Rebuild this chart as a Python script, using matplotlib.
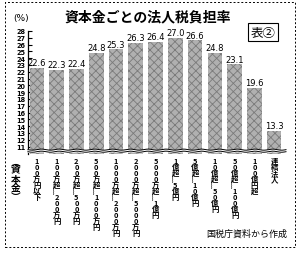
import numpy as np
import matplotlib
matplotlib.use("Agg")
import matplotlib.pyplot as plt
from matplotlib.patches import Rectangle
import matplotlib.transforms as mtransforms

plt.rcParams['font.family'] = ['Noto Sans CJK JP', 'DejaVu Sans']
plt.rcParams['hatch.color'] = '#7a7a7a'
plt.rcParams['hatch.linewidth'] = 0.6

categories = ["100万円以下", "100万超︴200万円", "200万超︴500万円", "500万超︴1000万円",
              "1000万超︴2000万円", "2000万超︴5000万円", "5000万超︴1億円",
              "1億超︴5億円", "5億超︴10億円", "10億超︴50億円", "50億超︴100億円",
              "100億円超", "連結法人"]
values = [22.6, 22.3, 22.4, 24.8, 25.3, 26.3, 26.4, 27.0, 26.6, 24.8, 23.1, 19.6, 13.3]
yticks = list(range(11, 29))

W, H = 299, 255
fig = plt.figure(figsize=(W / 100, H / 100), dpi=100)
ax = fig.add_axes([28 / W, 1 - 155 / H, 258 / W, 125 / H])
ymin, ymax = 9.91, 28.29
ax.set_ylim(ymin, ymax)
ax.set_xlim(-0.45, 12.6)

x = np.arange(len(values))
base = ymin
ax.bar(x, np.array(values) - base, bottom=base, width=0.74, color='#b0b0b0',
       hatch='xxxx', linewidth=0, zorder=2)

for xi, v in zip(x, values):
    ax.text(xi, v + 0.1, f"{v:.1f}", ha='center', va='bottom', fontsize=6,
            family=['DejaVu Sans'], zorder=3)

ax.set_yticks(yticks)
ax.set_yticklabels([str(t) for t in yticks], fontsize=4.7, family=['DejaVu Sans'],
                   fontweight='bold')
ax.tick_params(axis='y', direction='in', length=3, width=0.8, pad=2)
ax.set_xticks([])
for s in ['top', 'right', 'bottom']:
    ax.spines[s].set_visible(False)
ax.spines['left'].set_linewidth(0.9)
ax.spines['left'].set_bounds(ymin, 28)

# axis break (wavy band)
xs = np.linspace(-0.45, 12.6, 400)
wave = 0.08 * np.sin(xs * 2 * np.pi / 0.9)
lo = 10.25 + wave
hi = 10.55 + wave
ax.fill_between(xs, lo, hi, color='white', zorder=4, clip_on=False)
ax.plot(xs, lo, color='black', lw=0.7, zorder=5, clip_on=False)
ax.plot(xs, hi, color='black', lw=0.7, zorder=5, clip_on=False)

# category labels (vertical writing)
trans = mtransforms.blended_transform_factory(ax.transData, ax.transAxes)
for xi, c in zip(x, categories):
    ax.text(xi, -0.025, "\n".join(list(c)), transform=trans, ha='center', va='top',
            fontsize=5.3, linespacing=0.82, multialignment='center', fontweight='bold')

fig.text(16 / W, 1 - 157 / H, "\n".join(list("︵資本金︶")), ha='center', va='top',
         fontsize=7, linespacing=0.85, fontweight='bold')

fig.text(21 / W, 1 - 19 / H, "(%)", ha='center', va='center', fontsize=6.5,
         family=['DejaVu Sans'])
fig.text(148 / W, 1 - 17 / H, "資本金ごとの法人税負担率", ha='center', va='center',
         fontsize=10, fontweight='bold')
fig.text(263 / W, 1 - 33 / H, "表②", ha='center', va='center', fontsize=9,
         bbox=dict(boxstyle='square,pad=0.2', facecolor='white', edgecolor='black', lw=0.8))
fig.text(287 / W, 1 - 234 / H, "国税庁資料から作成", ha='right', va='center', fontsize=6.5)

fig.add_artist(Rectangle((5 / W, 7 / H), 290 / W, 245 / H, transform=fig.transFigure,
                         fill=False, linestyle=(0, (2, 2)), lw=0.7, edgecolor='black'))

fig.savefig("out.png", dpi=100)
